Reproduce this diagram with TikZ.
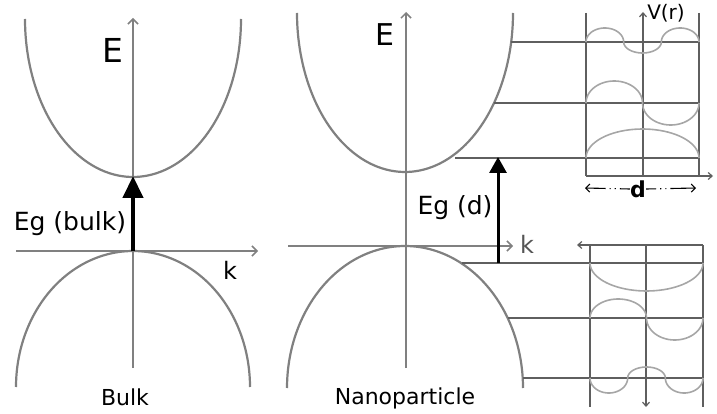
\documentclass[tikz,border=0pt]{standalone}
\usepackage{fontspec}
\setmainfont{DejaVu Sans}
\usetikzlibrary{arrows.meta}
\definecolor{axisgray}{HTML}{808080}
\definecolor{levelgray}{HTML}{5F5F5F}
\definecolor{wavegray}{HTML}{A6A6A6}
\definecolor{kgray}{HTML}{555555}
\tikzset{
  band/.style={draw=axisgray, line width=2.2pt},
  axisline/.style={draw=axisgray, line width=1.9pt, -{Straight Barb[length=5pt,width=10pt,line width=1.5pt]}},
  levelline/.style={draw=levelgray, line width=1.5pt},
  wall/.style={draw=levelgray, line width=1.5pt},
  boxaxis/.style={draw=levelgray, line width=1.3pt, -{Straight Barb[length=4pt,width=7pt,line width=1.2pt]}},
  wave/.style={draw=wavegray, line width=1.6pt},
  lbl/.style={inner sep=0pt, font=\fontsize{#1}{#1}\selectfont},
}
% elliptic hump: centre x, baseline y, half width, height (positive = up)
\newcommand{\whump}[4]{\draw[wave] plot[domain=180:0, samples=41, smooth, variable=\t] ({#1+#3*cos(\t)},{#2-(#4)*sin(\t)});}
\begin{document}
\begin{tikzpicture}[x=1pt,y=-1pt]
\useasboundingbox (0,0) rectangle (717,414);
% ---------- Bulk panel ----------
\draw[band] plot[domain=180:360, samples=80, smooth] ({133+108*cos(\x)},{19-158*sin(\x)});
\draw[band] plot[domain=0:180, samples=80, smooth] ({133+117*cos(\x)},{387-136*sin(\x)});
\coordinate (bEb) at (133,368);
\coordinate (bEt) at (133,18);
\coordinate (bKl) at (16,251);
\coordinate (bKr) at (258,251);
\draw[axisline] (bEb) -- (bEt);
\draw[axisline] (bKl) -- (bKr);
\coordinate (bVB) at (133,251);
\coordinate (bCB) at (133,177);
\draw[line width=4.3pt, -{Triangle[length=22pt,width=20pt]}, shorten >=-1pt] (bVB) -- (bCB);
\node[lbl=33] (bE) at (113,50) {E};
\node[lbl=25] (bEg) at (70,224) {Eg (bulk)};
\node[lbl=24] (bk) at (230,270) {k};
\node[lbl=22] (bulk) at (125,397) {Bulk};
% ---------- Nanoparticle panel ----------
\draw[band] plot[domain=180:360, samples=80, smooth] ({405+108*cos(\x)},{13-159*sin(\x)});
\draw[band] plot[domain=0:180, samples=80, smooth] ({405+118*cos(\x)},{388-142*sin(\x)});
\coordinate (nEb) at (406,368);
\coordinate (nEt) at (406,12);
\coordinate (nKl) at (288,246);
\coordinate (nKr) at (513,246);
\draw[axisline] (nEb) -- (nEt);
\draw[axisline] (nKl) -- (nKr);
\node[lbl=30] (nE) at (385,35) {E};
\node[lbl=25] (nEg) at (455,208) {Eg (d)};
\node[lbl=24, text=kgray] (nk) at (527,244) {k};
\node[lbl=22] (nano) at (405,398) {Nanoparticle};
% conduction levels
\coordinate (c3a) at (511,42);  \coordinate (c3b) at (699,42);
\coordinate (c2a) at (494,103); \coordinate (c2b) at (699,103);
\coordinate (c1a) at (455,158); \coordinate (c1b) at (699,158);
\draw[levelline] (c3a) -- (c3b);
\draw[levelline] (c2a) -- (c2b);
\draw[levelline] (c1a) -- (c1b);
% valence levels
\coordinate (v1a) at (462,263); \coordinate (v1b) at (703,263);
\coordinate (v2a) at (508,318); \coordinate (v2b) at (703,318);
\coordinate (v3a) at (523,378); \coordinate (v3b) at (703,378);
\draw[levelline] (v1a) -- (v1b);
\draw[levelline] (v2a) -- (v2b);
\draw[levelline] (v3a) -- (v3b);
% gap arrow
\coordinate (gA) at (498,263);
\coordinate (gB) at (498,158);
\draw[line width=3pt, -{Triangle[length=16pt,width=17pt]}, shorten >=-1pt] (gA) -- (gB);
% ---------- upper well ----------
\coordinate (uLt) at (586,13); \coordinate (uLb) at (586,176);
\coordinate (uRt) at (699,13); \coordinate (uRb) at (699,176);
\coordinate (uCt) at (643,12); \coordinate (uCb) at (643,176);
\coordinate (uXr) at (713,176);
\draw[wall] (uLt) -- (uLb);
\draw[wall] (uRt) -- (uRb);
\draw[boxaxis] (uCb) -- (uCt);
\draw[boxaxis] (uLb) -- (uXr);
\whump{642.5}{158}{56.5}{29}
\whump{614.25}{103}{28.25}{22}
\whump{670.75}{103}{28.25}{-22}
\whump{604.83}{42}{18.83}{14}
\whump{642.5}{42}{18.83}{-11}
\whump{680.17}{42}{18.83}{14}
\node[lbl=20] (vr) at (666,13) {V(r)};
\node[lbl=22, font=\fontsize{22}{22}\selectfont\bfseries] (dlab) at (638,189) {d};
\coordinate (dL) at (585,188);
\coordinate (dR) at (696,188);
\draw[draw=black, line width=1.1pt, dash pattern=on 10pt off 4pt on 1.2pt off 4pt on 1.2pt off 4pt on 30pt,
      -{Straight Barb[length=4pt,width=8pt,line width=1.1pt]}] (dlab.west) -- (dL);
\draw[draw=black, line width=1.1pt, dash pattern=on 10pt off 4pt on 1.2pt off 4pt on 1.2pt off 4pt on 30pt,
      -{Straight Barb[length=4pt,width=8pt,line width=1.1pt]}] (dlab.east) -- (dR);
% ---------- lower well ----------
\coordinate (lLt) at (590,245); \coordinate (lLb) at (590,407);
\coordinate (lRt) at (703,245); \coordinate (lRb) at (703,407);
\coordinate (lCt) at (646,245); \coordinate (lCb) at (646,407);
\coordinate (lXl) at (577,245);
\draw[wall] (lLt) -- (lLb);
\draw[wall] (lRt) -- (lRb);
\draw[boxaxis] (lCt) -- (lCb);
\draw[boxaxis] (lRt) -- (lXl);
\whump{646.5}{263}{56.5}{-28}
\whump{618.25}{318}{28.25}{19}
\whump{674.75}{318}{28.25}{-22}
\whump{608.83}{378}{18.83}{-15}
\whump{646.5}{378}{18.83}{11}
\whump{684.17}{378}{18.83}{-15}
\end{tikzpicture}
\end{document}
